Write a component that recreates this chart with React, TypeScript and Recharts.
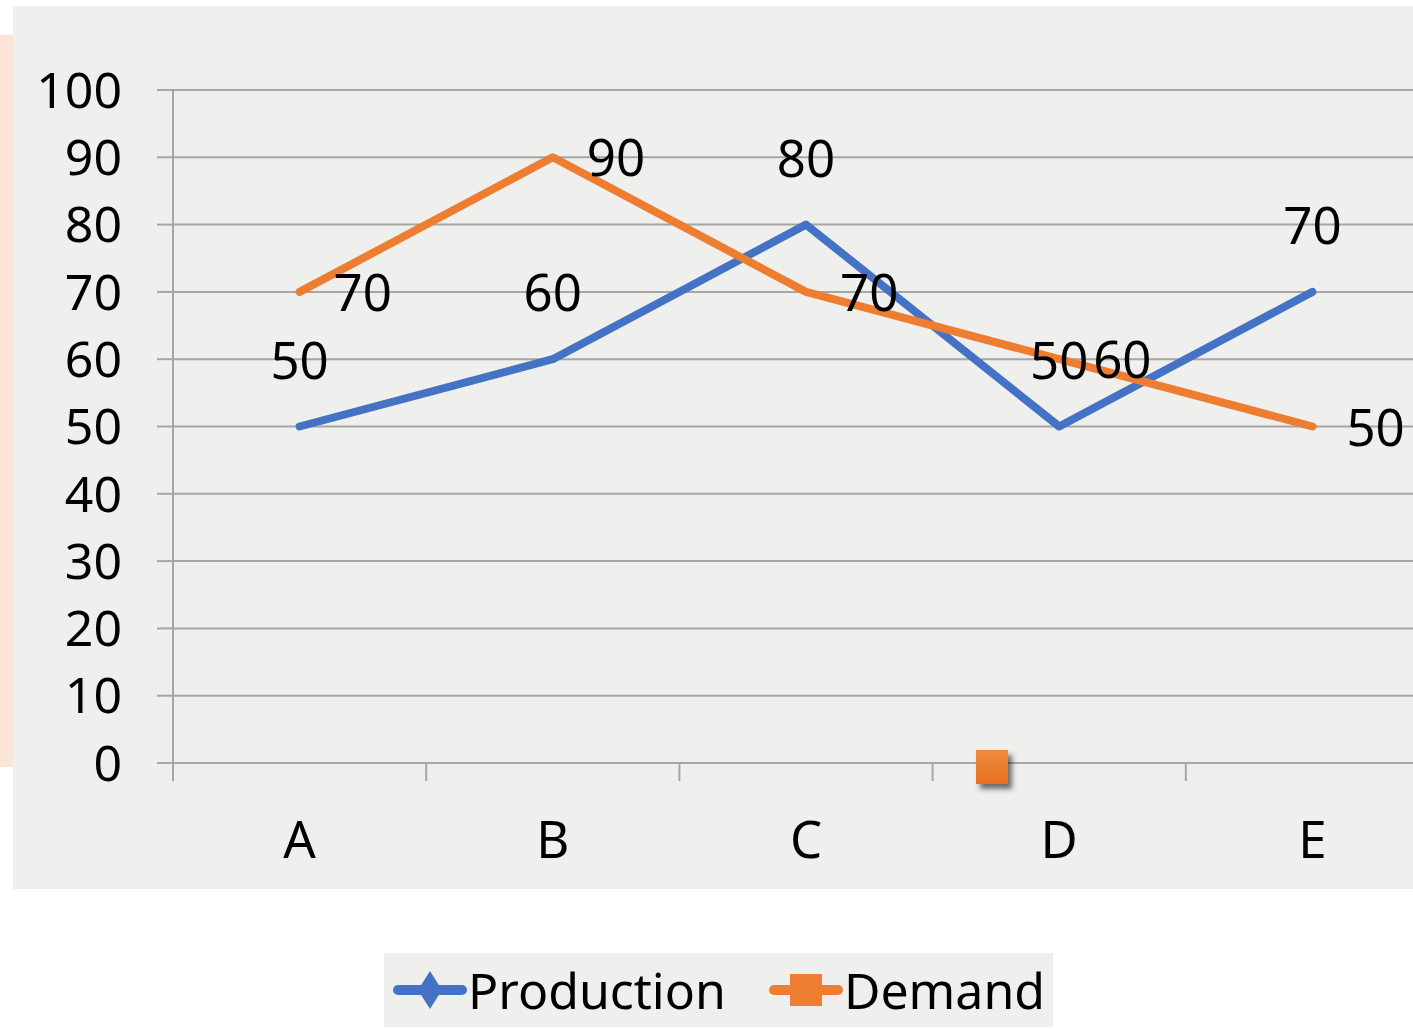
import React from "react";
import { LineChart, Line, XAxis, YAxis, CartesianGrid, LabelList } from "recharts";

const categories = ["A", "B", "C", "D", "E"];
const production = [50, 60, 80, 50, 70];
const demand = [70, 90, 70, 60, 50];
const yTicks = [0, 10, 20, 30, 40, 50, 60, 70, 80, 90, 100];

const data = categories.map((name, i) => ({ name, production: production[i], demand: demand[i] }));

const FONT = '"Noto Sans", "Open Sans", sans-serif';
const BLUE = "#4472c4";
const ORANGE = "#ed7d31";
const GRID = "#a6a6a6";

const CHART_W = 1460;
const CHART_H = 1029;
const Y_AXIS_W = 173;
const MARGIN = { top: 90, right: 21, left: 0, bottom: 129 };
const BAND = (CHART_W - Y_AXIS_W - MARGIN.right - MARGIN.left) / categories.length;

function CategoryTick(props: any) {
  const { x, y, payload, index } = props;
  const left = x - BAND / 2;
  return (
    <g>
      <line x1={left} x2={left} y1={y} y2={y + 18} stroke={GRID} strokeWidth={2} />
      {index === categories.length - 1 && (
        <line x1={x + BAND / 2} x2={x + BAND / 2} y1={y} y2={y + 18} stroke={GRID} strokeWidth={2} />
      )}
      <text x={x} y={y + 95} textAnchor="middle" fill="#000" fontSize={51} fontFamily={FONT}>
        {payload.value}
      </text>
    </g>
  );
}

function AboveLabel(props: any) {
  const { x, y, value } = props;
  return (
    <text x={x} y={y - 48} textAnchor="middle" fill="#000" fontSize={51} fontFamily={FONT}>
      {value}
    </text>
  );
}

function RightLabel(props: any) {
  const { x, y, value } = props;
  return (
    <text x={x + 34} y={y + 19} textAnchor="start" fill="#000" fontSize={51} fontFamily={FONT}>
      {value}
    </text>
  );
}

export default function App() {
  return (
    <div
      style={{
        position: "fixed",
        left: 0,
        top: 0,
        width: 1413,
        height: 1029,
        overflow: "hidden",
        background: "#fff",
        fontFamily: FONT,
      }}
    >
      <div style={{ position: "absolute", left: 0, top: 35, width: 13, height: 732, background: "#fbe5d6" }} />
      <div style={{ position: "absolute", left: 13, top: 6, width: 1400, height: 883, background: "#efefed" }} />
      <div style={{ position: "absolute", left: 0, top: 0 }}>
        <LineChart width={CHART_W} height={CHART_H} data={data} margin={MARGIN}>
          <CartesianGrid vertical={false} stroke={GRID} strokeWidth={2} />
          <XAxis
            dataKey="name"
            height={137}
            padding={{ left: BAND / 2, right: BAND / 2 }}
            axisLine={{ stroke: GRID, strokeWidth: 2 }}
            tickLine={false}
            tickSize={0}
            tickMargin={0}
            tick={<CategoryTick />}
            interval={0}
          />
          <YAxis
            width={Y_AXIS_W}
            domain={[0, 100]}
            ticks={yTicks}
            interval={0}
            axisLine={{ stroke: GRID, strokeWidth: 2 }}
            tickLine={{ stroke: GRID, strokeWidth: 2 }}
            tickSize={16}
            tickMargin={35}
            tick={{ fill: "#000", fontSize: 50, fontFamily: FONT }}
          />
          <Line
            type="linear"
            dataKey="production"
            stroke={BLUE}
            strokeWidth={8}
            strokeLinecap="round"
            strokeLinejoin="round"
            dot={false}
            activeDot={false}
            isAnimationActive={false}
          >
            <LabelList dataKey="production" content={<AboveLabel />} />
          </Line>
          <Line
            type="linear"
            dataKey="demand"
            stroke={ORANGE}
            strokeWidth={8}
            strokeLinecap="round"
            strokeLinejoin="round"
            dot={false}
            activeDot={false}
            isAnimationActive={false}
          >
            <LabelList dataKey="demand" content={<RightLabel />} />
          </Line>
        </LineChart>
      </div>
      {/* stray marker left over in the source image */}
      <div
        style={{
          position: "absolute",
          left: 976,
          top: 750,
          width: 32,
          height: 34,
          background: "linear-gradient(#f08a40, #e8701f)",
          boxShadow: "4px 5px 5px rgba(0,0,0,0.55)",
        }}
      />
      <div
        style={{
          position: "absolute",
          left: 384,
          top: 953,
          width: 669,
          height: 74,
          background: "#efefed",
          display: "flex",
          alignItems: "center",
          fontSize: 50,
          color: "#000",
        }}
      >
        <svg width={76} height={50} style={{ marginLeft: 8 }}>
          <line x1={6} x2={70} y1={25} y2={25} stroke={BLUE} strokeWidth={10} strokeLinecap="round" />
          <polygon points="38,6 50,25 38,44 26,25" fill={BLUE} />
        </svg>
        <span style={{ marginLeft: 0 }}>Production</span>
        <svg width={76} height={50} style={{ marginLeft: 42 }}>
          <line x1={6} x2={70} y1={25} y2={25} stroke={ORANGE} strokeWidth={10} strokeLinecap="round" />
          <rect x={22} y={9} width={32} height={32} fill={ORANGE} />
        </svg>
        <span style={{ marginLeft: 0 }}>Demand</span>
      </div>
    </div>
  );
}
